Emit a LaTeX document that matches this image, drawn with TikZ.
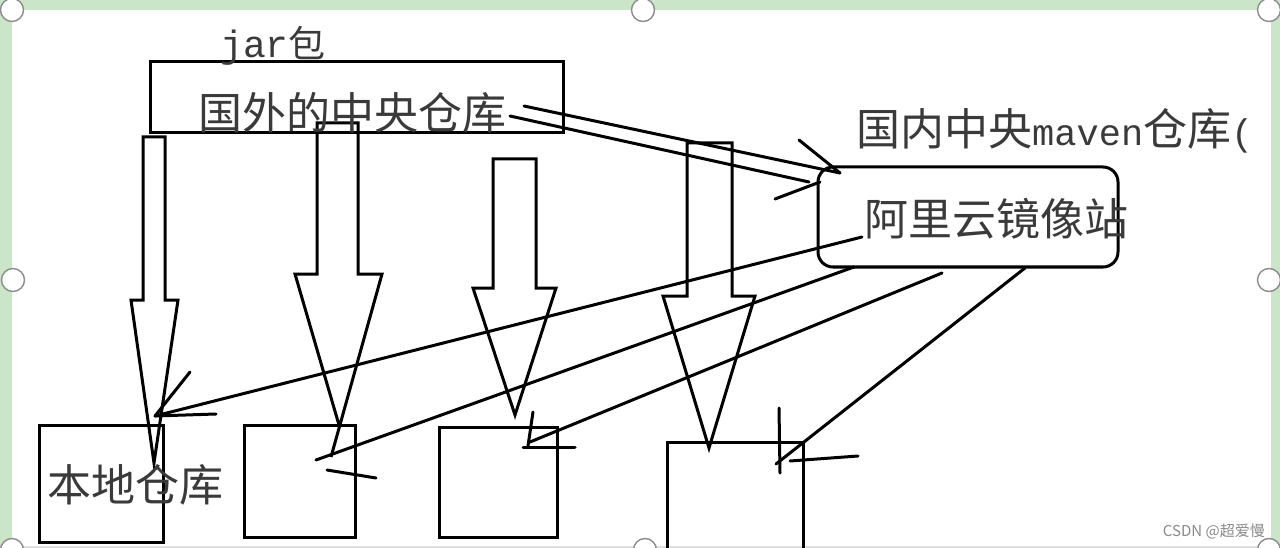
\documentclass[tikz,border=0pt]{standalone}
\usepackage{fontspec}
\newfontfamily\cjk{Noto Sans CJK SC}
\newfontfamily\mono{Liberation Mono}
\definecolor{framegreen}{HTML}{CBE5C8}
\definecolor{txt}{HTML}{3A3A3A}
\definecolor{handlegray}{HTML}{8C8C8C}
\definecolor{wm}{HTML}{8A8A8A}
\begin{document}
\begin{tikzpicture}[x=1pt,y=-1pt,
  ln/.style={line width=3pt, black, line cap=round, line join=round},
  shapeline/.style={line width=3pt, black, line join=miter},
  boxnode/.style={draw, line width=3pt, line join=miter, inner sep=0pt, outer sep=0pt},
  lbl/.style={text=txt, inner sep=0pt, font=\cjk\fontsize{44}{44}\selectfont},
  handle/.style={circle, draw=handlegray, fill=white, line width=1.4pt, minimum size=23pt, inner sep=0pt}
]
\useasboundingbox (0,0) rectangle (1280,548);
\fill[white] (0,0) rectangle (1280,548);
% selection frame
\fill[framegreen] (0,0) rectangle (1280,10);
\fill[framegreen] (0,0) rectangle (12,548);
\fill[framegreen] (1271,0) rectangle (1280,548);
\fill[black!12] (0,546) rectangle (1280,548);

% boxes
\node[boxnode, minimum width=413pt, minimum height=71pt] (foreign) at (356.5,97.5) {};
\node[boxnode, rounded corners=15pt, minimum width=300pt, minimum height=100pt] (ali) at (968,217) {};
\node[boxnode, minimum width=124pt, minimum height=117pt] (b1) at (101,483.5) {};
\node[boxnode, minimum width=111pt, minimum height=112pt] (b2) at (299.5,481) {};
\node[boxnode, minimum width=118pt, minimum height=110pt] (b3) at (498,482) {};
\draw[shapeline] (667,552) -- (667,442) -- (803,442) -- (803,552);

% block arrows
\draw[shapeline] (154,463) -- (131,300) -- (143,300) -- (143,137) -- (165,137) -- (165,300) -- (178,300) -- cycle;
\draw[shapeline] (339,425) -- (295,274) -- (317,274) -- (317,123) -- (358,123) -- (358,274) -- (382,274) -- (331,457);
\draw[shapeline] (515,415) -- (473,288) -- (493,288) -- (493,159) -- (536,159) -- (536,288) -- (556,288) -- cycle;
\draw[shapeline] (709,448) -- (663,296) -- (687,296) -- (687,143) -- (732,143) -- (732,296) -- (755,296) -- cycle;

% texts
\node[lbl, anchor=base west] (jar) at (220,58) {{\mono\fontsize{38}{38}\selectfont jar}{\cjk\fontsize{37}{37}\selectfont 包}};
\node[lbl] (foreigntext) at (352,113) {国外的中央仓库};
\node[lbl, anchor=west] (domestic) at (856,131) {国内中央{\mono\fontsize{37}{37}\selectfont maven}仓库{\mono\fontsize{37}{37}\selectfont (}};
\node[lbl, anchor=west] (alitext) at (864,219) {阿里云镜像站};
\node[lbl, anchor=west] (localtext) at (47,485) {本地仓库};
\node[anchor=east, inner sep=0pt, text=wm, font=\cjk\fontsize{15}{15}\selectfont] (watermark) at (1265,531) {CSDN @超爱慢};

% connector end points
\coordinate (f1) at (524,106); \coordinate (a1) at (840,173);
\coordinate (f2) at (510,116); \coordinate (a2) at (809,182);
\coordinate (ab1) at (799,140); \coordinate (ab2) at (775,199); \coordinate (ab2e) at (820,182);
\coordinate (s1) at (862,237); \coordinate (t1) at (155,416);
\coordinate (t1b1) at (190,372); \coordinate (t1b2) at (216,414);
\coordinate (s2) at (854,267); \coordinate (t2) at (316,460);
\coordinate (m2a) at (327,470); \coordinate (m2b) at (376,478);
\coordinate (s3) at (942,273); \coordinate (t3) at (530,442);
\coordinate (m3a) at (533,412); \coordinate (m3b) at (528,446);
\coordinate (m3c) at (523,447); \coordinate (m3d) at (575,447);
\coordinate (s4) at (1025,268); \coordinate (t4) at (776,464);
\coordinate (m4a) at (779,408); \coordinate (m4b) at (780,473);
\coordinate (m4c) at (790,461); \coordinate (m4d) at (858,456);

% connectors
\draw[ln] (f1) -- (a1);
\draw[ln] (f2) -- (a2);
\draw[ln] (ab1) -- (a1);
\draw[ln] (ab2) -- (ab2e);
\draw[ln] (s1) -- (t1);
\draw[ln] (t1b1) -- (t1) -- (t1b2);
\draw[ln] (s2) -- (t2);
\draw[ln] (m2a) -- (m2b);
\draw[ln] (s3) -- (t3);
\draw[ln] (m3a) -- (m3b);
\draw[ln] (m3c) -- (m3d);
\draw[ln] (s4) -- (t4);
\draw[ln] (m4a) -- (m4b);
\draw[ln] (m4c) -- (m4d);

% selection handles
\node[handle] (h1) at (12,10) {};
\node[handle] (h2) at (643,10) {};
\node[handle] (h3) at (1269,10) {};
\node[handle] (h4) at (13,280) {};
\node[handle] (h5) at (1269,280) {};
\node[handle] (h6) at (12,550) {};
\node[handle] (h7) at (645,550) {};
\node[handle] (h8) at (1269,550) {};
\end{tikzpicture}
\end{document}
